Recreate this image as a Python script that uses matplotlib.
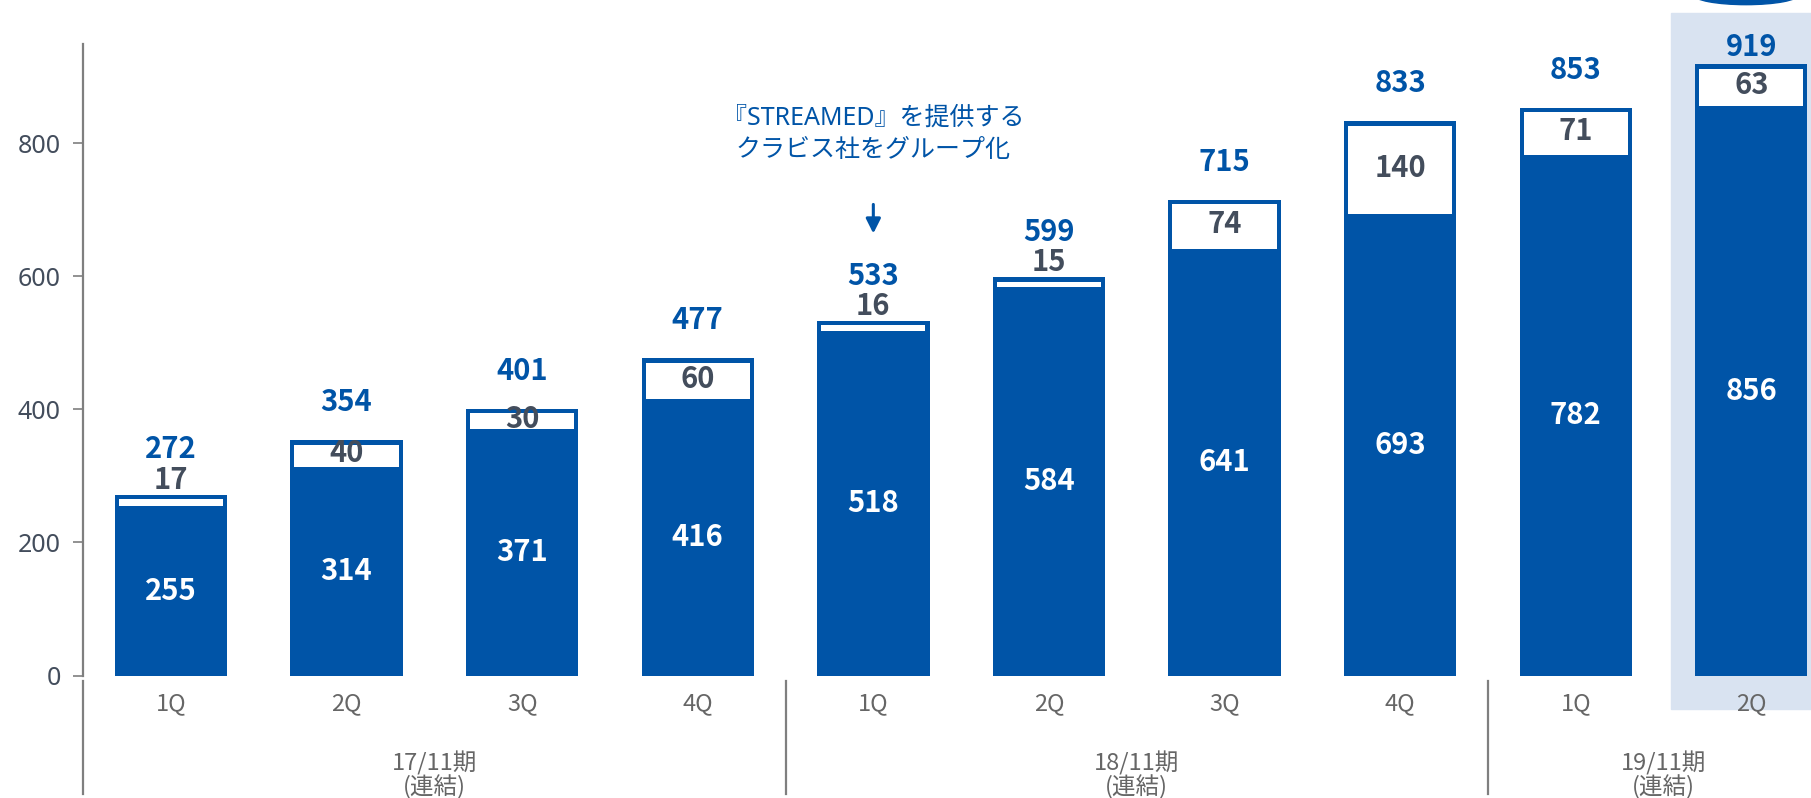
import matplotlib
matplotlib.use('Agg')
import matplotlib.pyplot as plt
from matplotlib.patches import Rectangle, Ellipse

plt.rcParams['font.family'] = ['Noto Sans CJK JP', 'DejaVu Sans']
latin = ['Noto Sans', 'Noto Sans CJK JP', 'DejaVu Sans']

# data
quarters = ['1Q', '2Q', '3Q', '4Q', '1Q', '2Q', '3Q', '4Q', '1Q', '2Q']
periods = ['17/11期', '18/11期', '19/11期']
period_note = '(連結)'
period_sizes = [4, 4, 2]
base = [255, 314, 371, 416, 518, 584, 641, 693, 782, 856]
extra = [17, 40, 30, 60, 16, 15, 74, 140, 71, 63]
totals = [272, 354, 401, 477, 533, 599, 715, 833, 853, 919]
note = '『STREAMED』を提供する\nクラビス社をグループ化'
note_idx = 4
highlight_idx = 9

blue = '#0054A7'
gray = '#666666'
dark = '#434D5C'
light = '#D9E3F1'

fig = plt.figure(figsize=(18.11, 7.98), dpi=100)
ax = fig.add_axes([72 / 1568, 0, 1 - 72 / 1568, 1])
ax.set_xlim(-0.5, 9.34)
ax.set_ylim(-184, 1015)

x = list(range(len(quarters)))
w = 0.64
inset_x = 0.023
inset_top = 7
vsize = 21

# highlight for latest quarter
ax.add_patch(Rectangle((highlight_idx - 0.46, -50), 1.5, 1046, color=light, zorder=0))
ax.add_patch(Ellipse((highlight_idx - 0.03, 1023), 0.6, 30, color=blue, zorder=1))

# outer bar (blue) and white top segment
ax.bar(x, totals, width=w, color=blue, zorder=2)
ax.bar(x, [e - inset_top for e in extra], bottom=base, width=w - 2 * inset_x,
       color='white', zorder=3)

for i in x:
    ax.text(i, base[i] / 2, str(base[i]), color='white', fontsize=vsize,
            fontweight='bold', ha='center', va='center', zorder=4)
    if extra[i] < 20:
        ax.text(i, totals[i] + 22, str(extra[i]), color=dark, fontsize=vsize,
                fontweight='semibold', ha='center', va='center', zorder=4)
        pad = 68
    else:
        ax.text(i, base[i] + extra[i] / 2, str(extra[i]), color=dark, fontsize=vsize,
                fontweight='semibold', ha='center', va='center', zorder=4)
        pad = 57
    if i == highlight_idx:
        pad = 26
    ax.text(i, totals[i] + pad, str(totals[i]), color=blue, fontsize=vsize,
            fontweight='bold', ha='center', va='center', zorder=4)
    ax.text(i, -43, quarters[i], color=gray, fontsize=17, ha='center', va='center')

# period labels and separators
start = 0
for name, n in zip(periods, period_sizes):
    mid = start + (n - 1) / 2
    ax.text(mid, -132, name, color=gray, fontsize=17, ha='center', va='center')
    ax.text(mid, -168, period_note, color=gray, fontsize=17, ha='center', va='center')
    ax.plot([start - 0.5, start - 0.5], [-8, -178], color='#7F7F7F', lw=1.6,
            clip_on=False)
    start += n

# annotation
for k, line in enumerate(note.split('\n')):
    ax.text(note_idx, 838 - 49 * k, line, color=blue, fontsize=18,
            ha='center', va='center', family=latin)
ax.annotate('', xy=(note_idx, 660), xytext=(note_idx, 712),
            arrowprops=dict(arrowstyle='-|>', color=blue, lw=2.2, mutation_scale=22))

# axis
for s in ['top', 'right', 'bottom']:
    ax.spines[s].set_visible(False)
ax.spines['left'].set_bounds(0, 949)
ax.spines['left'].set_color('#7F7F7F')
ax.spines['left'].set_linewidth(1.6)
ax.set_yticks([0, 200, 400, 600, 800])
ax.tick_params(axis='y', length=7, width=1.2, color='#7F7F7F', labelsize=18,
               labelcolor=dark, pad=9)
for lbl in ax.get_yticklabels():
    lbl.set_family(latin)
ax.set_xticks([])

fig.savefig('out.png', dpi=100)
